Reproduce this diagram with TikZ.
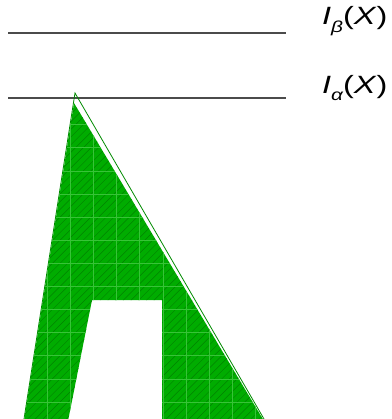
\documentclass[tikz,border=0pt]{standalone}
\usepackage{fontspec}
\setmainfont{Liberation Sans}
\definecolor{areagreen}{RGB}{0,172,0}
\definecolor{gridgreen}{RGB}{55,195,55}
\definecolor{hatchgreen}{RGB}{0,130,0}
\definecolor{levelgray}{RGB}{75,75,75}
\newcommand{\levellabel}[1]{\scalebox{1.3}[1]{\itshape I\raisebox{-0.3em}{\fontsize{16}{16}\selectfont #1}\textup{(}X\textup{)}}}
\begin{document}
\begin{tikzpicture}[x=1pt,y=-1pt,
  level/.style={draw=levelgray,line width=1.1pt},
  lbl/.style={anchor=west,inner sep=0pt,font=\fontsize{25}{25}\selectfont},
  outlinetri/.style={draw=areagreen!80!black,line width=0.8pt}]
\useasboundingbox (0,0) rectangle (391,419);
% level lines
\coordinate (b1) at (8,33);
\coordinate (b2) at (286,33);
\coordinate (a1) at (8,98);
\coordinate (a2) at (286,98);
\draw[level] (b1) -- (b2);
\draw[level] (a1) -- (a2);
\node[lbl] (lb) at (322,21) {\levellabel{β}};
\node[lbl] (la) at (322,88) {\levellabel{α}};
% outline triangle
\coordinate (t1) at (75,93);
\coordinate (t2) at (264,419);
\coordinate (t3) at (24,419);
\draw[outlinetri] (t3) -- (t1) -- (t2);
% filled region
\begin{scope}
\clip (74,103) -- (264,421) -- (162,421) -- (162,300) -- (92,300) -- (68,421) -- (24,421) -- cycle;
\fill[areagreen] (0,90) rectangle (300,425);
\foreach \c in {0,7.7,...,830} \draw[hatchgreen,line width=0.45pt] (\c-430,430) -- (\c,0);
\foreach \x in {1.1,24.2,...,300} \draw[gridgreen,line width=0.6pt] (\x,90) -- (\x,425);
\foreach \y in {101.6,124.7,...,425} \draw[gridgreen,line width=0.6pt] (0,\y) -- (300,\y);
\end{scope}
\end{tikzpicture}
\end{document}
